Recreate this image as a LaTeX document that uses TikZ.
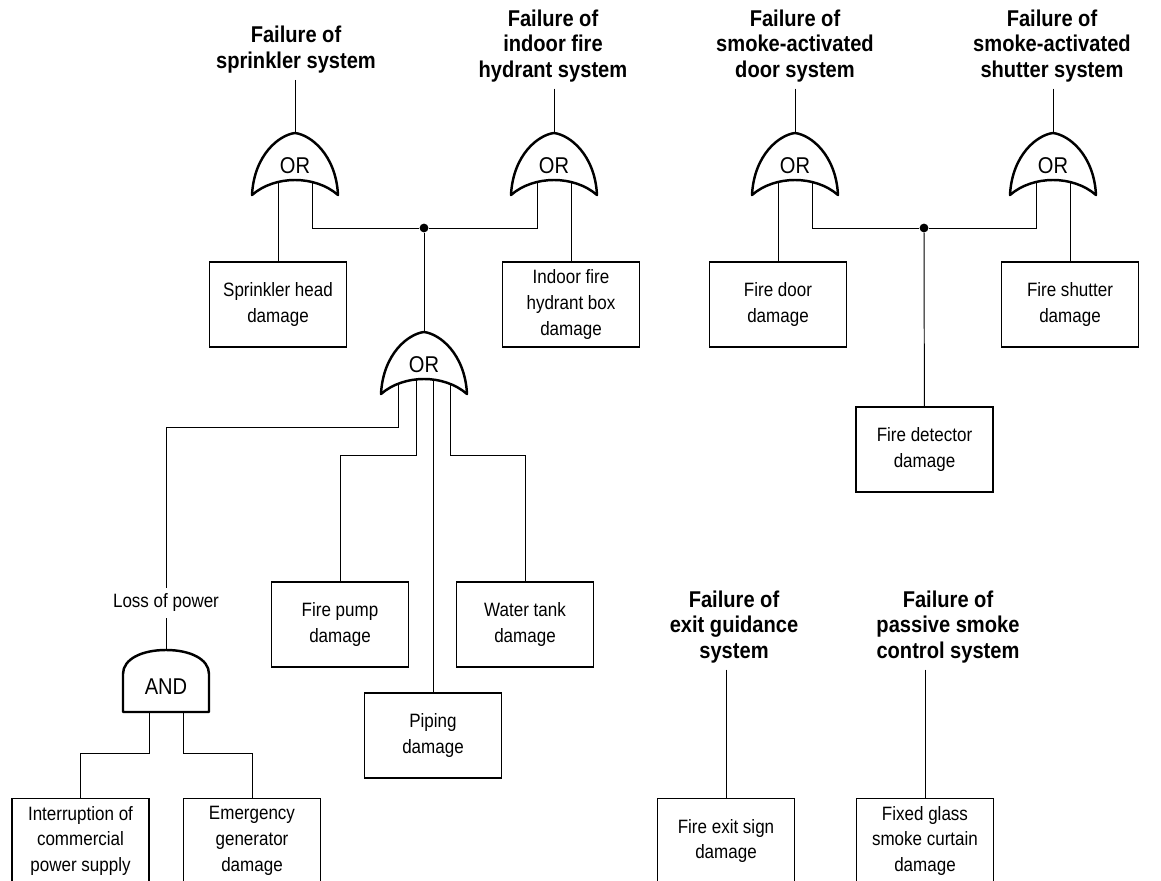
\documentclass[tikz,border=0pt]{standalone}
\usepackage{fontspec}
\setmainfont{Liberation Sans}[FakeStretch=0.88]
\usetikzlibrary{backgrounds}
\tikzset{
  conn/.style={line width=0.55pt},
  gate/.style={draw, line width=1.4pt, fill=white, line join=round},
  gatetext/.style={font=\fontsize{13}{15}\selectfont, inner sep=0pt},
  box/.style={draw, line width=1pt, minimum width=2.74cm, minimum height=1.7cm, align=center, font=\fontsize{11}{14.7}\selectfont},
  topevent/.style={align=center, font=\bfseries\fontsize{13}{14.7}\selectfont},
  midevent/.style={font=\fontsize{11}{14.7}\selectfont},
  dot/.style={circle, fill, inner sep=0pt, minimum size=5pt},
  orgate/.pic={
    \draw[gate] (-43,62) .. controls (-41,22) and (-16,2) .. (0,0)
      .. controls (16,2) and (41,22) .. (43,62)
      .. controls (20,42) and (-20,42) .. cycle;
    \node[gatetext] (-c) at (0,33) {OR};
    \coordinate (-top) at (0,0);
    \coordinate (-l2) at (-26,44);
    \coordinate (-l1) at (-17,44);
    \coordinate (-l0) at (-8,44);
    \coordinate (-r0) at (9,44);
    \coordinate (-r1) at (17,44);
    \coordinate (-r2) at (26,44);
  },
  andgate/.pic={
    \draw[gate] (-43,62) -- (-43,24) .. controls (-43,9) and (-24,0) .. (0,0)
      .. controls (24,0) and (43,9) .. (43,24) -- (43,62) -- cycle;
    \node[gatetext] (-c) at (0,37) {AND};
    \coordinate (-top) at (0,0);
    \coordinate (-l1) at (-17,56);
    \coordinate (-r1) at (17,56);
  }
}

\begin{document}
\begin{tikzpicture}[x=0.02cm, y=-0.02cm]
\useasboundingbox (0,0) rectangle (1161,881);

% top events
\node[topevent] (t1) at (296,50) {Failure of\\sprinkler system};
\node[topevent] (t2) at (553,46) {Failure of\\indoor fire\\hydrant system};
\node[topevent] (t3) at (795,46) {Failure of\\smoke-activated\\door system};
\node[topevent] (t4) at (1052,46) {Failure of\\smoke-activated\\shutter system};
\node[topevent] (t5) at (734,627) {Failure of\\exit guidance\\system};
\node[topevent] (t6) at (948,627) {Failure of\\passive smoke\\control system};

% gates
\pic (g1) at (295,133) {orgate};
\pic (g2) at (554,133) {orgate};
\pic (g3) at (424,332) {orgate};
\pic (g4) at (795,133) {orgate};
\pic (g5) at (1053,133) {orgate};
\pic (and1) at (166,650) {andgate};

% basic events
\node[box] (sprk) at (278,304.5) {Sprinkler head\\damage};
\node[box] (hyd) at (571,304.5) {Indoor fire\\hydrant box\\damage};
\node[box] (door) at (778,304.5) {Fire door\\damage};
\node[box] (shut) at (1070,304.5) {Fire shutter\\damage};
\node[box] (det) at (924.5,449.5) {Fire detector\\damage};
\node[box] (pump) at (340,624.5) {Fire pump\\damage};
\node[box] (tank) at (525,624.5) {Water tank\\damage};
\node[box] (pipe) at (433,735.5) {Piping\\damage};
\node[box] (intr) at (80.5,841) {Interruption of\\commercial\\power supply};
\node[box] (emg) at (252,841) {Emergency\\generator\\damage};
\node[box] (exit) at (726,841) {Fire exit sign\\damage};
\node[box] (glass) at (925,841) {Fixed glass\\smoke curtain\\damage};

\node[midevent] (lop) at (166,603) {Loss of power};

% junctions and bends
\node[dot] (j1) at (424,228) {};
\node[dot] (j2) at (924,228) {};
\coordinate (k1) at (166,427);
\coordinate (p1) at (416,455);
\coordinate (p2) at (450,455);
\coordinate (q1) at (149,753);
\coordinate (q2) at (183,753);

\begin{scope}[on background layer]
\draw[conn] (g1-top |- t1.south) -- (g1-top);
\draw[conn] (g2-top |- t2.south) -- (g2-top);
\draw[conn] (g4-top |- t3.south) -- (g4-top);
\draw[conn] (g5-top |- t4.south) -- (g5-top);
\draw[conn] (g1-l1) -- (g1-l1 |- sprk.north);
\draw[conn] (g1-r1) |- (j1);
\draw[conn] (g2-l1) |- (j1);
\draw[conn] (g2-r1) -- (g2-r1 |- hyd.north);
\draw[conn] (j1) -- (g3-top);
\draw[conn] (g3-l2) |- (k1) -- (lop);
\draw[conn] (g3-l0) -- (p1) -| (pump);
\draw[conn] (g3-r0) -- (g3-r0 |- pipe.north);
\draw[conn] (g3-r2) -- (p2) -| (tank);
\draw[conn] (lop) -- (and1-top);
\draw[conn] (and1-l1) -- (q1) -| (intr);
\draw[conn] (and1-r1) -- (q2) -| (emg);
\draw[conn] (g4-l1) -- (g4-l1 |- door.north);
\draw[conn] (g4-r1) |- (j2);
\draw[conn] (g5-l1) |- (j2);
\draw[conn] (g5-r1) -- (g5-r1 |- shut.north);
\draw[conn] (j2) -- (det);
\draw[conn] (exit |- t5.south) -- (exit);
\draw[conn] (glass |- t6.south) -- (glass);
\end{scope}

\end{tikzpicture}
\end{document}
